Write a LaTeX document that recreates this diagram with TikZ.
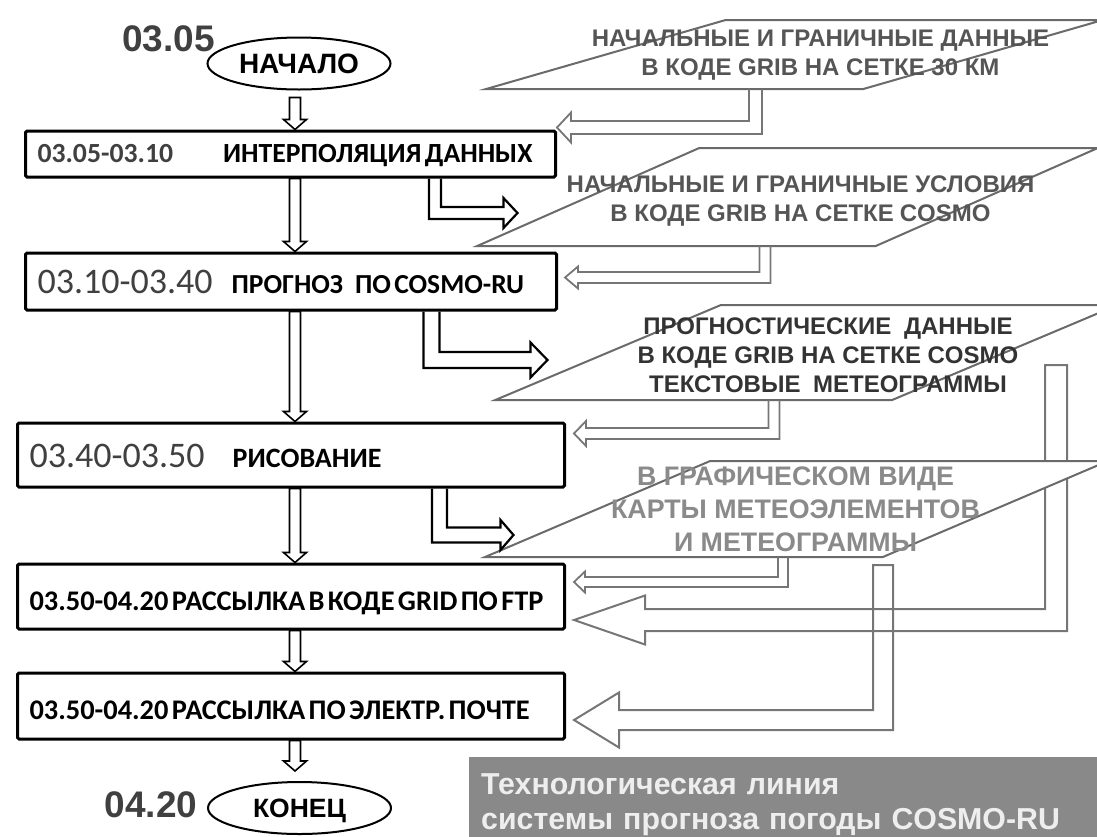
\documentclass[tikz,border=0pt]{standalone}
\usepackage{fontspec}
\newfontfamily\calib{Carlito}
\newfontfamily\arial{Liberation Sans}
\usetikzlibrary{positioning, shapes.geometric, calc, backgrounds}
\definecolor{tgray}{HTML}{404040}
\definecolor{pgray}{HTML}{6A6A6A}
\definecolor{agray}{HTML}{767676}
\definecolor{dtxt}{HTML}{555555}
\definecolor{dtxtdark}{HTML}{333333}
\definecolor{dtxtlight}{HTML}{8A8A8A}
\definecolor{capfill}{HTML}{898989}
\definecolor{captext}{HTML}{EEEEEE}
% hollow block arrows: style, start, tip, half shaft, half head, head length
\newcommand{\vflow}[6]{%
  \draw[#1] let \p1=#2, \p2=#3 in
    (\x1-#4,\y1) -- (\x1-#4,\y2+#6) -- (\x1-#5,\y2+#6) -- (\x1,\y2)
    -- (\x1+#5,\y2+#6) -- (\x1+#4,\y2+#6) -- (\x1+#4,\y1) -- cycle;}
\newcommand{\lflow}[7]{% down, then left
  \draw[#1] let \p1=#2, \p2=#3 in
    (\x1-#4,\y1) -- (\x1-#4,\y2+#4) -- (\x2+#6,\y2+#4) -- (\x2+#6,\y2+#5)
    -- (\x2,\y2) -- (\x2+#6,\y2-#5) -- (\x2+#6,\y2-#4) -- (\x1+#4,\y2-#4)
    -- (\x1+#4,\y1) #7;}
\newcommand{\rflow}[6]{% down, then right
  \draw[#1] let \p1=#2, \p2=#3 in
    (\x1-#4,\y1) -- (\x1-#4,\y2-#4) -- (\x2-#6,\y2-#4) -- (\x2-#6,\y2-#5)
    -- (\x2,\y2) -- (\x2-#6,\y2+#5) -- (\x2-#6,\y2+#4) -- (\x1+#4,\y2+#4)
    -- (\x1+#4,\y1);}

\begin{document}
\begin{tikzpicture}[x=1pt, y=-1pt, line join=miter]
  \tikzset{
    box/.style={draw=black, line width=3pt, rounded corners=1.5pt,
      fill=white, anchor=west, inner xsep=12pt, inner ysep=0pt,
      align=left, text width=#1-24pt, text depth=0pt,
      font=\calib\bfseries},
    oval/.style={ellipse, draw=black, line width=2pt, fill=white,
      minimum width=183pt, minimum height=52pt, inner sep=0pt,
      text depth=0pt, font=\arial\bfseries\fontsize{28}{32}\selectfont},
    tstamp/.style={inner sep=0pt, text=tgray,
      font=\arial\bfseries\fontsize{37}{42}\selectfont},
    data/.style={trapezium, trapezium stretches=true, draw=pgray,
      line width=2pt, fill=white, inner sep=6pt},
    dtext/.style={align=center, inner sep=0pt,
      font=\arial\bfseries\fontsize{24}{29}\selectfont},
    mainarr/.style={draw=black, line width=1.6pt},
    elbow/.style={draw=black, line width=2.2pt},
    feed/.style={draw=agray, line width=1.8pt},
    bigfeed/.style={draw=agray, line width=2pt},
  }
  \useasboundingbox (0,0) rectangle (1097,836);
  \coordinate (axis) at (295,0);
  % Flow column
  \node[oval] (start) at (299,63.5) {НАЧАЛО};
  \node[tstamp] (t0) at (168.5,38.5) {03.05};
  \node[box=530pt, minimum height=46pt, text height=17pt] (intp) at (24,154)
    {\fontsize{27.7}{30}\selectfont\textcolor{tgray}{03.05-03.10}\hspace{50pt}ИНТЕРПОЛЯЦИЯ ДАННЫХ};
  \node[box=531pt, minimum height=57pt, text height=23pt] (fc) at (24,281.5)
    {{\fontsize{36}{40}\selectfont\mdseries\textcolor{tgray}{03.10-03.40}}\hspace{19pt}{\fontsize{27.5}{30}\selectfont ПРОГНОЗ\hspace{12pt}ПО COSMO-RU}};
  \node[box=547pt, minimum height=64pt, text height=25pt] (pic) at (16,455)
    {{\fontsize{36}{40}\selectfont\mdseries\textcolor{tgray}{03.40-03.50}}\hspace{28pt}{\fontsize{28}{30}\selectfont РИСОВАНИЕ}};
  \node[box=547pt, minimum height=65pt, text height=27pt] (ftp) at (16,596.5)
    {\fontsize{28.4}{30}\selectfont 03.50-04.20 РАССЫЛКА В КОДЕ GRID ПО FTP};
  \node[box=547pt, minimum height=66pt, text height=27pt] (mail) at (16,706)
    {\fontsize{28.4}{30}\selectfont 03.50-04.20 РАССЫЛКА ПО ЭЛЕКТР. ПОЧТЕ};
  \node[oval, font=\arial\bfseries\fontsize{26.5}{30}\selectfont] (stop) at (299.5,808) {КОНЕЦ};
  \node[tstamp] (t1) at (151,804.5) {04.20};
  % Data blocks
  \node[data, minimum width=617pt, minimum height=69pt,
        trapezium left angle=29.9, trapezium right angle=150.1] (d30) at (794.5,54.5) {};
  \node[dtext, text=dtxt] (d30t) at ($(d30.center)+(26,1)$)
    {НАЧАЛЬНЫЕ И ГРАНИЧНЫЕ ДАННЫЕ\\В КОДЕ GRIB НА СЕТКЕ 30 КМ};
  \node[data, minimum width=621pt, minimum height=98pt,
        trapezium left angle=38.5, trapezium right angle=141.5] (dcs) at (787.5,197) {};
  \node[dtext, text=dtxt] (dcst) at ($(dcs.center)+(13,4)$)
    {НАЧАЛЬНЫЕ И ГРАНИЧНЫЕ УСЛОВИЯ\\В КОДЕ GRIB НА СЕТКЕ\hspace{6pt}COSMO};
  \node[data, minimum width=623pt, minimum height=95pt,
        trapezium left angle=37.2, trapezium right angle=142.8] (dfc) at (806.5,352.5) {};
  \node[dtext, text=dtxtdark] (dfct) at ($(dfc.center)+(21.5,3)$)
    {ПРОГНОСТИЧЕСКИЕ\hspace{6pt} ДАННЫЕ\\В КОДЕ GRIB НА СЕТКЕ COSMO\\ТЕКСТОВЫЕ\hspace{6pt} МЕТЕОГРАММЫ};
  \node[data, minimum width=623pt, minimum height=96pt,
        trapezium left angle=37.5, trapezium right angle=142.5] (dmp) at (796.5,509) {};
  \node[dtext, text=dtxtlight, font=\arial\bfseries\fontsize{26.8}{33}\selectfont] (dmpt)
    at ($(dmp.center)+(-1,0)$)
    {В ГРАФИЧЕСКОМ ВИДЕ\\КАРТЫ МЕТЕОЭЛЕМЕНТОВ\\И МЕТЕОГРАММЫ};
  % Main arrows
  \vflow{mainarr}{($(axis |- start.south)+(0,7)$)}{(intp.north)}{5.5pt}{11.5pt}{10pt}
  \vflow{mainarr}{(axis |- intp.south)}{(fc.north)}{5.5pt}{11.5pt}{10pt}
  \vflow{mainarr}{(axis |- fc.south)}{(pic.north)}{5.5pt}{11.5pt}{10pt}
  \vflow{mainarr}{(axis |- pic.south)}{(ftp.north)}{5.5pt}{11.5pt}{10pt}
  \vflow{mainarr}{(axis |- ftp.south)}{(mail.north)}{5.5pt}{11.5pt}{10pt}
  \vflow{mainarr}{(axis |- mail.south)}{($(stop.north)+(0,-10)$)}{5.5pt}{11.5pt}{10pt}
  % Outputs to data blocks
  \rflow{elbow}{($(intp.south west)+(411,0)$)}
    {($(dcs.center)+(-270,16)$)}{6pt}{15pt}{14pt}
  \rflow{elbow}{($(fc.south west)+(407.5,0)$)}
    {($(dfc.center)+(-259,7.5)$)}{8pt}{17.5pt}{17pt}
  \rflow{elbow}{($(pic.south west)+(423.5,0)$)}
    {($(dmp.center)+(-283,26)$)}{7.5pt}{15pt}{13pt}
  % Inputs from data blocks
  \lflow{feed}{($(d30.center)+(-39,34.5)$)}
    {($(intp.north east)+(0,-2)$)}{6.5pt}{15pt}{14pt}{}
  \lflow{feed}{($(dcs.center)+(-22.5,49)$)}
    {($(fc.east)+(7,-4)$)}{5.5pt}{11pt}{13pt}{}
  \lflow{feed}{($(dfc.center)+(-32.5,47.5)$)}
    {($(pic.east)+(8,-21.5)$)}{5.5pt}{12.5pt}{12pt}{}
  \lflow{feed}{($(dmp.center)+(-13.5,48)$)}
    {($(ftp.east)+(8,-14.5)$)}{5pt}{10.5pt}{11pt}{}
  \begin{scope}[on background layer]
    \lflow{bigfeed}{($(dfc.center)+(249.5,12.5)$)}
      {($(ftp.east)+(8,23.5)$)}{11pt}{24.5pt}{71pt}{-- cycle}
    \lflow{bigfeed}{($(dmp.center)+(86.5,56)$)}
      {($(mail.east)+(8,14)$)}{10pt}{27.5pt}{45pt}{-- cycle}
  \end{scope}
  % Caption
  \node[anchor=north west, fill=capfill, minimum width=640pt,
        minimum height=90pt, text width=616pt, inner xsep=12pt,
        align=left, text=captext,
        font=\arial\bfseries\fontsize{30.3}{35}\selectfont] (ttl) at (469,757)
    {\rule{0pt}{26pt}Технологическая линия\\системы прогноза погоды COSMO-RU};
\end{tikzpicture}
\end{document}
